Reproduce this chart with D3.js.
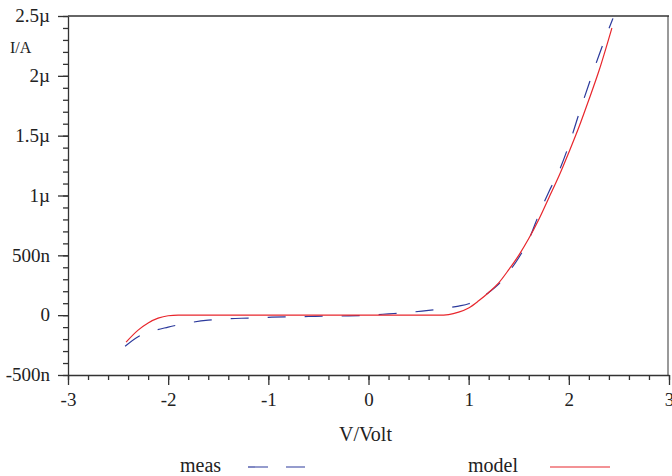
<!DOCTYPE html>
<html>
<head>
<meta charset="utf-8">
<script src="https://cdn.jsdelivr.net/npm/d3@7"></script>
<style>
  body { margin: 0; background: #fff; }
  svg text { font-family: "Liberation Serif", "Times New Roman", serif; fill: #222; }
</style>
</head>
<body>
<div id="chart"></div>
<script>
// voltage / current readings (current in A)
const measV = [-2.43, -2.3, -2.2, -2.0, -1.8, -1.6, -1.4, -1.2, -1.0, -0.8, -0.6, -0.4, -0.2, 0,
    0.2, 0.4, 0.6, 0.8, 0.9, 1.0, 1.1, 1.2, 1.3, 1.4, 1.5, 1.6, 1.7, 1.8, 1.9, 2.0, 2.1, 2.2, 2.3, 2.44];
const measI = [-0.26, -0.18, -0.145, -0.10, -0.065, -0.042, -0.03, -0.024, -0.018, -0.013, -0.011, -0.008, -0.006, 0,
    0.011, 0.023, 0.04, 0.062, 0.076, 0.095, 0.135, 0.19, 0.26, 0.36, 0.48, 0.63, 0.84, 1.03, 1.2, 1.42, 1.68, 1.93, 2.17, 2.48]
    .map(d => d * 1e-6);

const modelV = [-2.42, -2.3, -2.2, -2.1, -2.0, -1.9, -1.0, 0, 0.7, 0.8, 0.9, 1.0, 1.1, 1.2, 1.3, 1.4, 1.5,
    1.6, 1.7, 1.8, 1.9, 2.0, 2.1, 2.2, 2.3, 2.43];
const modelI = [-0.225, -0.125, -0.065, -0.025, -0.005, 0, 0, 0, 0, 0.005, 0.025, 0.06, 0.12, 0.19, 0.27, 0.38, 0.50,
    0.64, 0.80, 0.98, 1.16, 1.36, 1.57, 1.80, 2.04, 2.40]
    .map(d => d * 1e-6);

const xTicks = [-3, -2, -1, 0, 1, 2, 3];
const xTickLabels = ["-3", "-2", "-1", "0", "1", "2", "3"];
const yTicks = [-5e-7, 0, 5e-7, 1e-6, 1.5e-6, 2e-6, 2.5e-6];
const yTickLabels = ["-500n", "0", "500n", "1\u00b5", "1.5\u00b5", "2\u00b5", "2.5\u00b5"];

const width = 672, height = 476;
const margin = { top: 16, right: 3, bottom: 101, left: 68 };

const svg = d3.select("#chart").append("svg")
    .attr("width", width)
    .attr("height", height);

const x = d3.scaleLinear().domain([-3, 3]).range([margin.left, width - margin.right]);
const y = d3.scaleLinear().domain([-5e-7, 2.5e-6]).range([height - margin.bottom, margin.top]);

// right frame (gray) and top frame
svg.append("line")
    .attr("x1", x(3) - 1).attr("x2", x(3) - 1)
    .attr("y1", y(2.5e-6)).attr("y2", y(-5e-7))
    .attr("stroke", "#999").attr("stroke-width", 2);
svg.append("line")
    .attr("x1", x(-3)).attr("x2", x(3))
    .attr("y1", y(2.5e-6)).attr("y2", y(2.5e-6))
    .attr("stroke", "#333").attr("stroke-width", 1.3);

// minor ticks
const xMinor = d3.range(-3, 3.001, 0.2);
const yMinor = d3.range(-5e-7, 2.5e-6 + 1e-12, 1e-7);

svg.append("g")
    .attr("transform", `translate(0, ${y(-5e-7)})`)
    .call(d3.axisBottom(x).tickValues(xMinor).tickSize(5).tickFormat(""))
    .call(g => g.select(".domain").remove())
    .selectAll("line").attr("stroke", "#333").attr("stroke-width", 1.3);

svg.append("g")
    .attr("transform", `translate(${x(-3)}, 0)`)
    .call(d3.axisLeft(y).tickValues(yMinor).tickSize(5).tickFormat(""))
    .call(g => g.select(".domain").remove())
    .selectAll("line").attr("stroke", "#333").attr("stroke-width", 1.3);

// major axes
const xAxis = svg.append("g")
    .attr("transform", `translate(0, ${y(-5e-7)})`)
    .call(d3.axisBottom(x).tickValues(xTicks).tickSize(10).tickSizeOuter(0).tickPadding(6)
        .tickFormat((d, i) => xTickLabels[i]));

const yAxis = svg.append("g")
    .attr("transform", `translate(${x(-3)}, 0)`)
    .call(d3.axisLeft(y).tickValues(yTicks).tickSize(10).tickSizeOuter(0).tickPadding(8)
        .tickFormat((d, i) => yTickLabels[i]));

[xAxis, yAxis].forEach(g => {
    g.attr("font-family", null);
    g.select(".domain").attr("stroke", "#333").attr("stroke-width", 1.3);
    g.selectAll(".tick line").attr("stroke", "#333").attr("stroke-width", 1.3);
    g.selectAll("text")
        .style("font-family", "'Liberation Serif', serif")
        .style("font-size", "19px")
        .attr("fill", "#222");
});
yAxis.selectAll("text").attr("dy", "0.3em");
xAxis.selectAll("text").attr("dy", "0.8em");

// axis titles
svg.append("text")
    .attr("x", 10).attr("y", 53)
    .style("font-size", "16px")
    .text("I/A");

svg.append("text")
    .attr("x", x(0) - 3).attr("y", 441)
    .attr("text-anchor", "middle")
    .style("font-size", "20px")
    .text("V/Volt");

// curves
const line = d3.line()
    .x(d => x(d[0]))
    .y(d => y(d[1]))
    .curve(d3.curveMonotoneX);

const measColor = "#2c3a9c";
const modelColor = "#e8262c";

svg.append("path")
    .datum(measV.map((v, i) => [v, measI[i]]))
    .attr("d", line)
    .attr("fill", "none")
    .attr("stroke", measColor)
    .attr("stroke-width", 1.2)
    .attr("stroke-dasharray", "18,19");

svg.append("path")
    .datum(modelV.map((v, i) => [v, modelI[i]]))
    .attr("d", line)
    .attr("fill", "none")
    .attr("stroke", modelColor)
    .attr("stroke-width", 1.2);

// legend
const legend = svg.append("g").attr("class", "legend");

legend.append("text").attr("x", 180).attr("y", 472).style("font-size", "20px").text("meas");
legend.append("line")
    .attr("x1", 248).attr("x2", 305).attr("y1", 467).attr("y2", 467)
    .attr("stroke", measColor).attr("stroke-width", 1.2)
    .attr("stroke-dasharray", "20,18");

legend.append("text").attr("x", 468).attr("y", 472).style("font-size", "20px").text("model");
legend.append("line")
    .attr("x1", 550).attr("x2", 610).attr("y1", 467).attr("y2", 467)
    .attr("stroke", modelColor).attr("stroke-width", 1.2);
</script>
</body>
</html>
